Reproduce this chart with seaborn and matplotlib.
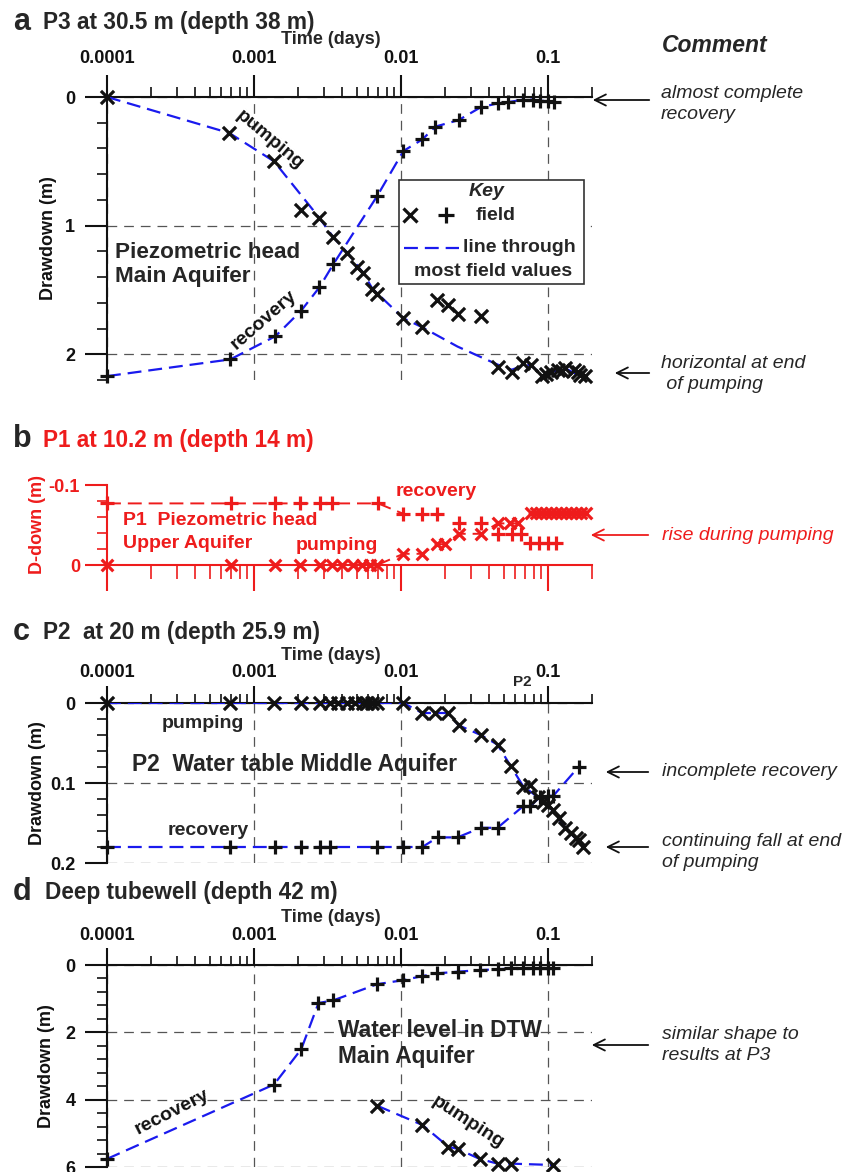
import matplotlib
matplotlib.use('Agg')
import matplotlib.pyplot as plt
import seaborn as sns
from matplotlib.ticker import FixedLocator, NullFormatter
from matplotlib.patches import Rectangle, FancyArrowPatch
from matplotlib.lines import Line2D

sns.set_style('white')
plt.rcParams['font.family'] = ['Liberation Sans', 'DejaVu Sans']
plt.rcParams['lines.scale_dashes'] = False

BLUE = '#1a1aee'
RED = '#ee1c1c'
GRID = '#555555'
INK = '#111111'

# time axis (days)
X_MAJOR = [1e-4, 1e-3, 1e-2, 1e-1]
X_LABELS = ['0.0001', '0.001', '0.01', '0.1']
X_MINOR = [m * e for e in X_MAJOR for m in range(2, 10) if m * e <= 0.2]

# panel a - P3 at 30.5 m
a_pump_t = [1e-4, 6.8e-4, 1.37e-3, 2.1e-3, 2.79e-3, 3.47e-3, 4.32e-3, 5.06e-3, 5.56e-3, 6.4e-3,
            6.9e-3, 0.0104, 0.014, 0.0175, 0.0211, 0.0243, 0.0349, 0.0455, 0.0568, 0.0676,
            0.0764, 0.092, 0.097, 0.1047, 0.117, 0.125, 0.132, 0.15, 0.16, 0.167, 0.178]
a_pump_d = [0.0, 0.28, 0.50, 0.88, 0.94, 1.09, 1.21, 1.32, 1.37, 1.49,
            1.53, 1.72, 1.79, 1.58, 1.62, 1.69, 1.70, 2.10, 2.14, 2.07,
            2.08, 2.17, 2.15, 2.14, 2.12, 2.13, 2.11, 2.12, 2.14, 2.16, 2.17]
a_pump_line_t = [1e-4, 6.8e-4, 1.37e-3, 2.79e-3, 3.47e-3, 4.32e-3, 5.56e-3, 6.4e-3, 0.0104, 0.014,
                 0.0243, 0.0455, 0.0568, 0.0676, 0.0764, 0.092, 0.105, 0.132, 0.16]
a_pump_line_d = [0.0, 0.28, 0.50, 0.94, 1.09, 1.21, 1.37, 1.49, 1.72, 1.79,
                 1.94, 2.08, 2.12, 2.09, 2.08, 2.17, 2.14, 2.11, 2.16]
a_rec_t = [1e-4, 6.9e-4, 1.4e-3, 2.1e-3, 2.79e-3, 3.47e-3, 6.9e-3, 0.0104, 0.014, 0.0172,
           0.0247, 0.0349, 0.0455, 0.054, 0.068, 0.079, 0.089, 0.1, 0.11]
a_rec_d = [2.17, 2.04, 1.86, 1.66, 1.48, 1.30, 0.77, 0.42, 0.33, 0.23,
           0.18, 0.08, 0.05, 0.04, 0.02, 0.02, 0.03, 0.03, 0.04]

# panel b - P1 at 10.2 m (negative = rise)
b_pump_t = [1e-4, 7e-4, 1.4e-3, 2.07e-3, 2.8e-3, 3.4e-3, 4.0e-3, 4.7e-3, 5.4e-3, 6.2e-3,
            6.9e-3, 0.0104, 0.014, 0.0175, 0.02, 0.0248, 0.035, 0.0455, 0.055, 0.063,
            0.0764, 0.0826, 0.0895, 0.0968, 0.1047, 0.1133, 0.1226, 0.1325, 0.143, 0.155,
            0.1675, 0.181]
b_pump_d = [0.0, 0.0, 0.0, 0.0, 0.0, 0.0, 0.0, 0.0, 0.0, 0.0,
            0.0, -0.014, -0.014, -0.026, -0.026, -0.039, -0.039, -0.052, -0.052, -0.052,
            -0.065, -0.065, -0.065, -0.065, -0.065, -0.065, -0.065, -0.065, -0.065, -0.065,
            -0.065, -0.065]
b_rec_t = [1e-4, 7e-4, 1.4e-3, 2.07e-3, 2.8e-3, 3.4e-3, 7.0e-3, 0.0104, 0.014, 0.0175,
           0.0248, 0.035, 0.0462, 0.057, 0.066, 0.076, 0.0867, 0.1, 0.113]
b_rec_d = [-0.077, -0.077, -0.077, -0.077, -0.077, -0.077, -0.077, -0.064, -0.064, -0.064,
           -0.053, -0.053, -0.039, -0.039, -0.039, -0.028, -0.028, -0.028, -0.028]

# panel c - P2 at 20 m
c_pump_t = [1e-4, 6.9e-4, 1.37e-3, 2.1e-3, 2.8e-3, 3.3e-3, 3.76e-3, 4.3e-3, 4.9e-3, 5.5e-3,
            5.9e-3, 6.4e-3, 6.9e-3, 0.0104, 0.014, 0.017, 0.0208, 0.0248, 0.035, 0.0455,
            0.056, 0.068, 0.076, 0.086, 0.093, 0.1, 0.109, 0.12, 0.132, 0.143,
            0.156, 0.162, 0.175]
c_pump_d = [0.0, 0.0, 0.0, 0.0, 0.0, 0.0, 0.0, 0.0, 0.0, 0.0,
            0.0, 0.0, 0.0, 0.0, 0.0125, 0.0125, 0.0125, 0.028, 0.04, 0.052,
            0.079, 0.105, 0.102, 0.117, 0.124, 0.127, 0.134, 0.144, 0.156, 0.163,
            0.169, 0.171, 0.18]
c_pump_line_t = [1e-4, 0.0104, 0.014, 0.0208, 0.0248, 0.035, 0.0455, 0.056, 0.068, 0.1, 0.132, 0.175]
c_pump_line_d = [0.0, 0.0, 0.0125, 0.0125, 0.028, 0.04, 0.052, 0.079, 0.104, 0.127, 0.156, 0.18]
c_rec_t = [1e-4, 6.9e-4, 1.4e-3, 2.1e-3, 2.8e-3, 3.3e-3, 6.9e-3, 0.0104, 0.014, 0.0178,
           0.0243, 0.035, 0.0455, 0.068, 0.076, 0.089, 0.1, 0.109, 0.162]
c_rec_d = [0.18, 0.18, 0.18, 0.18, 0.18, 0.18, 0.18, 0.18, 0.18, 0.168,
           0.168, 0.156, 0.156, 0.129, 0.129, 0.117, 0.116, 0.116, 0.08]

# panel d - deep tubewell
d_pump_t = [6.9e-3, 0.014, 0.0211, 0.0243, 0.0344, 0.0455, 0.056, 0.108]
d_pump_d = [4.18, 4.75, 5.40, 5.46, 5.76, 5.90, 5.90, 5.94]
d_rec_t = [1e-4, 1.37e-3, 2.1e-3, 2.75e-3, 3.47e-3, 6.9e-3, 0.0104, 0.014, 0.0175, 0.0243,
           0.0344, 0.0455, 0.056, 0.068, 0.079, 0.089, 0.1, 0.109]
d_rec_d = [5.76, 3.55, 2.50, 1.13, 1.05, 0.57, 0.45, 0.33, 0.25, 0.20,
           0.15, 0.13, 0.10, 0.10, 0.10, 0.10, 0.10, 0.10]

W, H = 857, 1172
fig = plt.figure(figsize=(W / 100, H / 100), dpi=100)


def fx(px):
    return px / W


def fy(py):
    return 1 - py / H


def ftext(px, py, s, **kw):
    kw.setdefault('va', 'center')
    fig.text(fx(px), fy(py), s, **kw)


def arrow(x0, x1, y, color=INK):
    fig.add_artist(FancyArrowPatch((fx(x0), fy(y)), (fx(x1), fy(y)), transform=fig.transFigure,
                                   arrowstyle='->', mutation_scale=20, lw=1.3, color=color))


def make_axes(top, bottom):
    return fig.add_axes([fx(107), fy(bottom), 485 / W, (bottom - top) / H])


def style(ax, ylim, yt, ylabels, yminor, ylabel, ylabel_x, color=INK, on_top=True,
          xlen=22, xminlen=10, xpad=5.8, ypad=7, grid=True):
    ax.set_xscale('log')
    ax.set_xlim(1e-4, 0.2)
    ax.set_ylim(*ylim)
    ax.xaxis.set_major_locator(FixedLocator(X_MAJOR))
    ax.xaxis.set_minor_locator(FixedLocator(X_MINOR))
    ax.xaxis.set_minor_formatter(NullFormatter())
    ax.yaxis.set_major_locator(FixedLocator(yt))
    ax.yaxis.set_minor_locator(FixedLocator(yminor))
    ax.set_yticklabels(ylabels, fontweight='bold')
    if on_top:
        ax.set_xticklabels(X_LABELS, fontweight='bold')
        ax.tick_params(axis='x', which='both', top=True, bottom=False, labeltop=True, labelbottom=False)
        ax.spines['bottom'].set_visible(False)
    else:
        ax.set_xticklabels([])
        ax.tick_params(axis='x', which='both', top=False, bottom=True)
        ax.spines['top'].set_visible(False)
    ax.spines['right'].set_visible(False)
    for s in ('top', 'bottom', 'left'):
        ax.spines[s].set_color(color)
        ax.spines[s].set_linewidth(1.5)
    ax.tick_params(axis='x', which='major', length=xlen * 0.72, width=1.5, direction='out',
                   color=color, labelcolor=color, labelsize=13, pad=xpad)
    ax.tick_params(axis='x', which='minor', length=xminlen * 0.72, width=1.2, direction='out', color=color)
    ax.tick_params(axis='y', which='major', left=True, length=22 * 0.72, width=1.5, direction='out',
                   color=color, labelcolor=color, labelsize=13, pad=ypad)
    ax.tick_params(axis='y', which='minor', left=True, length=10 * 0.72, width=1.2, direction='out', color=color)
    ax.set_ylabel(ylabel, fontsize=13, fontweight='bold', color=color)
    ax.yaxis.set_label_coords(ylabel_x, 0.5)
    ax.patch.set_alpha(0)
    if grid:
        ax.grid(True, which='major', color=GRID, linestyle=(0, (7, 5)), linewidth=0.9)
        ax.set_axisbelow(True)
    else:
        ax.grid(False)


def marks(ax, t, d, marker, color=INK, s=90):
    sns.scatterplot(x=t, y=d, ax=ax, marker=marker, s=s, color=color, linewidth=2.3,
                    clip_on=False, zorder=5, legend=False)


def dashed(ax, t, d, color=BLUE, lw=1.6):
    sns.lineplot(x=t, y=d, ax=ax, sort=False, estimator=None, color=color, linewidth=lw,
                 linestyle=(0, (10, 5)), legend=False, zorder=4)


# ---------------- panel a ----------------
ax_a = make_axes(97, 380)
style(ax_a, (2.2, 0), [0, 1, 2], ['0', '1', '2'],
      [0.2, 0.4, 0.6, 0.8, 1.2, 1.4, 1.6, 1.8, 2.2], 'Drawdown (m)', -0.103)
dashed(ax_a, a_pump_line_t, a_pump_line_d)
dashed(ax_a, a_rec_t, a_rec_d)
marks(ax_a, a_pump_t, a_pump_d, 'x')
marks(ax_a, a_rec_t, a_rec_d, '+', s=115)
txt = dict(fontsize=14, fontweight='bold', color=INK, ha='center', va='center')
ax_a.text(1.29e-3, 0.334, 'pumping', rotation=-40, **txt)
ax_a.text(1.16e-3, 1.733, 'recovery', rotation=41, **txt)
ax_a.text(1.13e-4, 1.305, 'Piezometric head\nMain Aquifer', fontsize=16.2, fontweight='bold',
          ha='left', va='center', linespacing=1.2)

ftext(13, 22, 'a', fontsize=22, fontweight='bold')
ftext(43, 23, 'P3 at 30.5 m (depth 38 m)', fontsize=16.3, fontweight='bold')
ftext(331, 40, 'Time (days)', fontsize=13, fontweight='bold', ha='center')
ftext(662, 45, 'Comment', fontsize=16.5, fontweight='bold', style='italic')
ftext(661, 104, 'almost complete\nrecovery', fontsize=14, style='italic', linespacing=1.3)
arrow(652, 590, 100)
ftext(661, 374, 'horizontal at end\n of pumping', fontsize=14, style='italic', linespacing=1.3)
arrow(652, 612, 373)

# key box
fig.add_artist(Rectangle((fx(399), fy(284)), 185 / W, 104 / H, transform=fig.transFigure,
                         facecolor='white', edgecolor='#333333', lw=1.2, zorder=6))
ftext(487, 191, 'Key', fontsize=14, fontweight='bold', style='italic', ha='center', zorder=7)
fig.add_artist(Line2D([fx(410)], [fy(215)], marker='x', ms=10, mew=2.3, color=INK,
                      transform=fig.transFigure, zorder=7))
fig.add_artist(Line2D([fx(446)], [fy(215)], marker='+', ms=12, mew=2.3, color=INK,
                      transform=fig.transFigure, zorder=7))
ftext(476, 215, 'field', fontsize=14, fontweight='bold', zorder=7)
fig.add_artist(Line2D([fx(404), fx(459)], [fy(248), fy(248)], color=BLUE, lw=1.6,
                      linestyle=(0, (10, 5)), transform=fig.transFigure, zorder=7))
ftext(463, 248, 'line through', fontsize=14, fontweight='bold', zorder=7)
ftext(414, 272, 'most field values', fontsize=14, fontweight='bold', zorder=7)

# ---------------- panel b ----------------
ax_b = make_axes(485, 565)
style(ax_b, (0, -0.1), [-0.1, 0], ['-0.1', '0'], [-0.08, -0.06, -0.04, -0.02],
      'D-down (m)', -0.126, color=RED, on_top=False, xlen=26, xminlen=14, ypad=3.6, grid=False)
dashed(ax_b, b_rec_t[:8], b_rec_d[:8], color=RED, lw=1.4)
dashed(ax_b, b_pump_t[10:], b_pump_d[10:], color=RED, lw=1.4)
marks(ax_b, b_pump_t, b_pump_d, 'x', color=RED, s=70)
marks(ax_b, b_rec_t, b_rec_d, '+', color=RED, s=95)
rtxt = dict(fontsize=14, fontweight='bold', color=RED, va='center', ha='left')
ax_b.text(9.18e-3, -0.0925, 'recovery', **rtxt)
ax_b.text(1.29e-4, -0.056, 'P1  Piezometric head', **rtxt)
ax_b.text(1.29e-4, -0.027, 'Upper Aquifer', **rtxt)
ax_b.text(1.91e-3, -0.024, 'pumping', **rtxt)

ftext(13, 439, 'b', fontsize=22, fontweight='bold')
ftext(43, 440, 'P1 at 10.2 m (depth 14 m)', fontsize=16.3, fontweight='bold', color=RED)
ftext(662, 535, 'rise during pumping', fontsize=14, style='italic', color=RED)
arrow(651, 588, 535, color=RED)

# ---------------- panel c ----------------
ax_c = make_axes(703, 863)
style(ax_c, (0.2, 0), [0, 0.1, 0.2], ['0', '0.1', '0.2'],
      [0.02, 0.04, 0.06, 0.08, 0.12, 0.14, 0.16, 0.18], 'Drawdown (m)', -0.126,
      xlen=17, xminlen=9, xpad=3.6)
dashed(ax_c, c_pump_line_t, c_pump_line_d)
dashed(ax_c, c_rec_t, c_rec_d)
marks(ax_c, c_pump_t, c_pump_d, 'x')
marks(ax_c, c_rec_t, c_rec_d, '+', s=115)
ax_c.text(2.37e-4, 0.025, 'pumping', fontsize=14, fontweight='bold', va='center')
ax_c.text(2.57e-4, 0.159, 'recovery', fontsize=14, fontweight='bold', va='center')
ax_c.text(1.48e-4, 0.0775, 'P2  Water table Middle Aquifer', fontsize=16.4, fontweight='bold', va='center')

ftext(13, 632, 'c', fontsize=22, fontweight='bold')
ftext(43, 632, 'P2  at 20 m (depth 25.9 m)', fontsize=16.3, fontweight='bold')
ftext(331, 655, 'Time (days)', fontsize=13, fontweight='bold', ha='center')
ftext(522, 682, 'P2', fontsize=11, fontweight='bold', ha='center')
ftext(662, 772, 'incomplete recovery', fontsize=14, style='italic')
arrow(651, 603, 772)
ftext(662, 852, 'continuing fall at end\nof pumping', fontsize=14, style='italic', linespacing=1.3)
arrow(651, 603, 847)

# ---------------- panel d ----------------
ax_d = make_axes(965, 1167)
style(ax_d, (6, 0), [0, 2, 4, 6], ['0', '2', '4', '6'],
      [0.4, 0.8, 1.2, 1.6, 2.4, 2.8, 3.2, 3.6, 4.4, 4.8, 5.2, 5.6], 'Drawdown (m)', -0.107,
      xlen=17, xminlen=9, xpad=2.9)
dashed(ax_d, d_pump_t, d_pump_d)
dashed(ax_d, d_rec_t, d_rec_d)
marks(ax_d, d_pump_t, d_pump_d, 'x')
marks(ax_d, d_rec_t, d_rec_d, '+', s=115)
ax_d.text(3.76e-3, 2.34, 'Water level in DTW\nMain Aquifer', fontsize=16.4, fontweight='bold',
          va='center', linespacing=1.15)
ax_d.text(2.77e-4, 4.37, 'recovery', rotation=27, **txt)
ax_d.text(0.0284, 4.66, 'pumping', rotation=-33, **txt)

ftext(13, 892, 'd', fontsize=22, fontweight='bold')
ftext(45, 893, 'Deep tubewell (depth 42 m)', fontsize=16.3, fontweight='bold')
ftext(331, 917, 'Time (days)', fontsize=13, fontweight='bold', ha='center')
ftext(662, 1045, 'similar shape to\nresults at P3', fontsize=14, style='italic', linespacing=1.3)
arrow(651, 589, 1045)

fig.savefig('out.png', dpi=100)
